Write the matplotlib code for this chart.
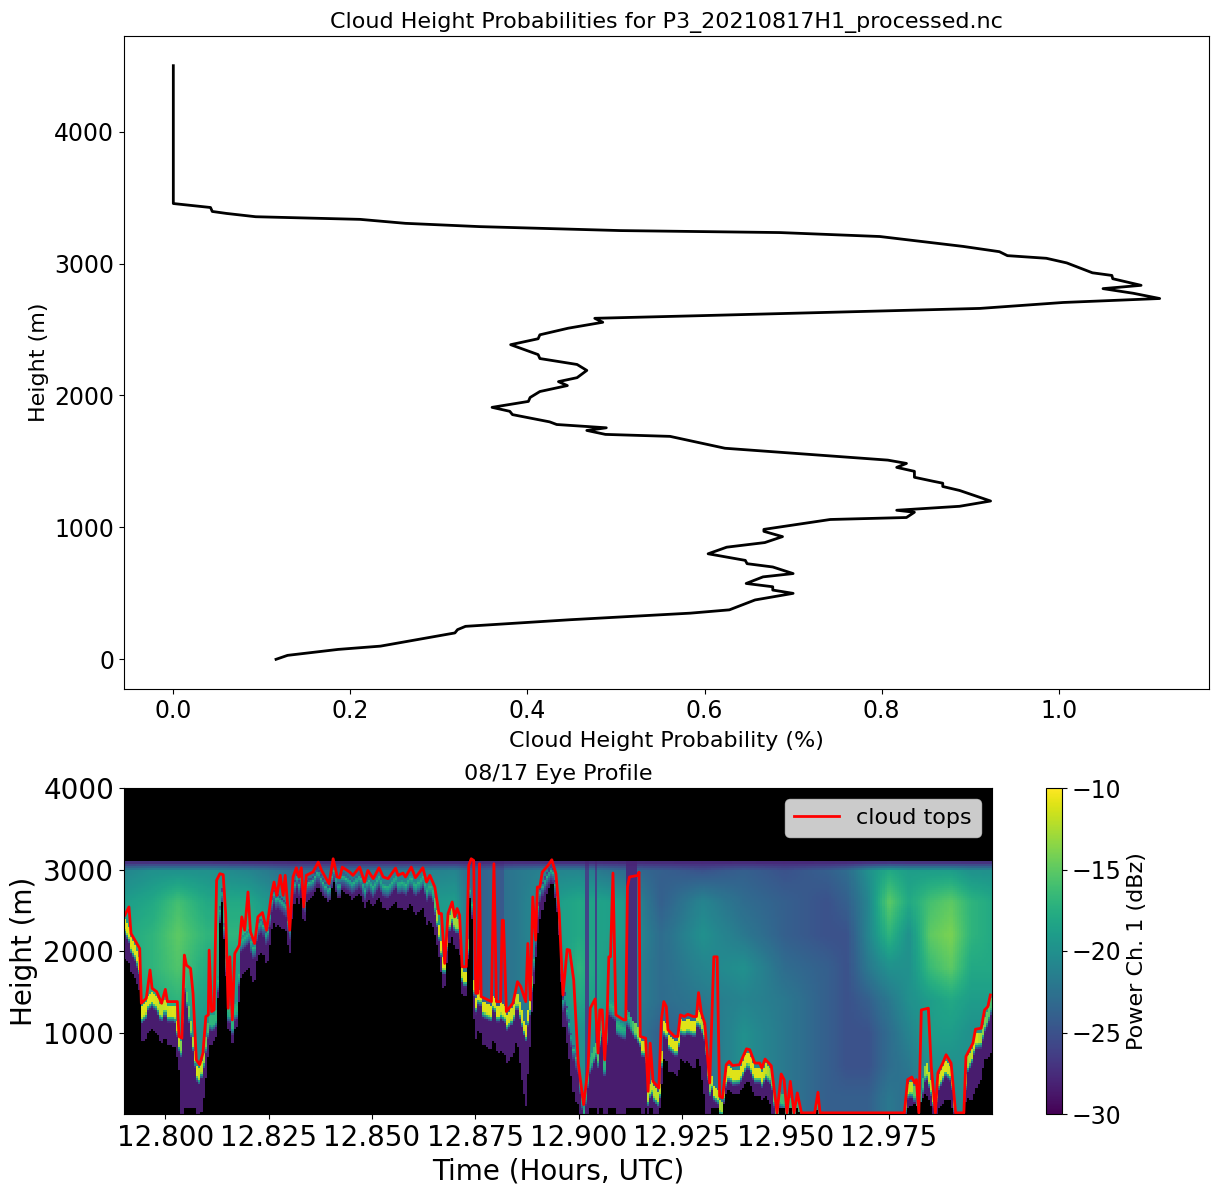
import numpy as np
import matplotlib
matplotlib.use('Agg')
import matplotlib.pyplot as plt

# top panel, cloud height probability profile
prob = [.116,.129,.186,.234,.318,.321,.330,.448,.584,.628,.657,.700,.677,.677,.647,.666,.700,.677,.648,.646,
        .604,.625,.668,.688,.667,.667,.742,.828,.837,.817,.888,.923,.888,.869,.869,.858,.837,.837,.817,.828,
        .807,.623,.561,.488,.467,.489,.433,.425,.383,.380,.360,.401,.403,.414,.445,.435,.456,.467,.456,.414,
        .412,.381,.412,.414,.446,.485,.476,.595,.911,1.005,1.114,1.084,1.050,1.093,1.061,1.060,1.038,1.009,.986,.942,
        .933,.892,.798,.685,.505,.346,.262,.211,.093,.060,.044,.042,0,0]
prob_h = [0,30,75,100,200,225,250,300,350,375,450,500,525,550,575,625,650,700,725,750,
          800,850,885,930,970,985,1060,1075,1115,1130,1160,1200,1280,1310,1335,1350,1380,1425,1455,1485,
          1510,1600,1690,1705,1735,1755,1780,1800,1855,1880,1910,1955,1985,2030,2075,2105,2135,2190,2235,2280,
          2310,2385,2430,2460,2510,2555,2585,2605,2660,2705,2735,2775,2810,2835,2885,2910,2930,3005,3040,3060,
          3090,3130,3205,3235,3250,3280,3305,3335,3355,3380,3395,3425,3455,4500]

# bottom panel, cloud tops line
top_t = [12.7902,12.7912,12.7917,12.7938,12.7942,12.7954,12.7963,12.7968,12.7979,12.7991,12.8,12.8005,12.8019,12.8029,12.8033,12.804,
         12.8046,12.8051,12.8061,12.8067,12.8075,12.8083,12.8091,12.8098,12.8104,12.8106,12.8112,12.8118,12.8124,12.8132,12.814,12.8146,
         12.8152,12.8156,12.8162,12.8168,12.8179,12.8185,12.8192,12.82,12.8206,12.8216,12.8224,12.8235,12.8245,12.8257,12.8263,12.827,
         12.8278,12.8285,12.829,12.8301,12.8309,12.8317,12.8323,12.8329,12.8335,12.8341,12.8357,12.837,12.8378,12.8396,12.8406,12.8416,
         12.8422,12.8428,12.8446,12.8454,12.847,12.8482,12.849,12.8503,12.8517,12.8527,12.8539,12.8557,12.8563,12.8575,12.8581,12.8595,
         12.8605,12.8623,12.8632,12.864,12.8652,12.8662,12.8668,12.8676,12.8684,12.8694,12.87,12.8706,12.8712,12.8718,12.8728,12.8734,
         12.874,12.8746,12.8751,12.8756,12.876,12.8764,12.8789,12.8795,12.8801,12.8811,12.8815,12.8818,12.8825,12.8841,12.8852,12.886,
         12.8872,12.8877,12.8883,12.8889,12.8896,12.89,12.8906,12.8912,12.8926,12.8935,12.8945,12.8953,12.8962,12.8972,12.8978,12.8988,
         12.8999,12.9012,12.9023,12.9028,12.904,12.9047,12.9051,12.9057,12.9063,12.9069,12.9073,12.9077,12.9083,12.909,12.9109,12.9114,
         12.9118,12.9123,12.9144,12.9146,12.9149,12.9162,12.9168,12.9173,12.918,12.9194,12.92,12.9206,12.9212,12.9216,12.9232,12.924,
         12.9246,12.9256,12.9264,12.9277,12.9285,12.929,12.9297,12.9305,12.9317,12.9327,12.9335,12.9341,12.9348,12.9357,12.9364,12.9372,
         12.9389,12.9406,12.9414,12.9426,12.9438,12.9443,12.9451,12.9466,12.948,12.949,12.9497,12.9504,12.9512,12.9521,12.9529,12.9539,
         12.9571,12.9579,12.9584,12.9788,12.9796,12.9806,12.9813,12.9817,12.9823,12.9829,12.9846,12.9853,12.9863,12.9869,12.9881,12.9889,
         12.9901,12.9912,12.9932,12.9937,12.9954,12.996,12.9974,12.9982,12.999,12.9996]
top_h = [2441,2543,2217,2034,1363,1424,1770,1546,1505,1363,1533,1383,1383,1383,956,935,
         1953,1830,1790,1485,670,610,752,1200,1220,2014,1261,1281,2869,2950,2938,2462,
         1302,1932,1159,1973,2075,2421,2258,2726,2238,2095,2421,2474,2258,2706,2848,2685,
         2930,2685,2930,2258,2910,3023,2910,3023,2543,2930,2970,3092,2990,2828,3133,2910,
         2901,3031,2970,2930,3031,2848,2990,2889,3023,2910,2889,3019,2930,2958,2910,3031,
         2901,3023,2848,2930,2787,2462,2462,1851,2462,2604,2421,2523,2441,1810,1810,3052,
         3133,3113,1485,1485,3072,1444,1383,3072,1383,1383,2380,2380,1261,1363,1627,1566,
         1383,2095,1403,2665,2136,2787,2787,2970,3052,3121,2950,2462,1464,2022,2014,1648,
         630,121,589,1302,1416,752,1281,1281,670,1241,1932,1932,2958,1220,1159,1159,
         2787,2910,2930,2970,956,935,284,874,406,325,1159,1383,1322,1037,956,956,
         1220,1200,1228,1200,1200,1493,1241,1118,386,1932,1932,223,203,610,650,600,
         610,805,793,630,630,569,679,597,20,496,427,20,406,20,264,20,
         20,272,20,20,427,459,386,427,20,1281,1302,589,20,508,630,732,
         630,20,20,711,874,1045,1057,1281,1322,1464]

# clear air return, read at these times (columns) and heights (rows)
air_t = [12.790,12.797,12.803,12.810,12.820,12.830,12.870,12.875,12.885,12.895,12.900,12.910,
         12.920,12.930,12.940,12.950,12.960,12.965,12.970,12.975,12.980,12.985,12.990,12.995,13.0]
air_h = [200,600,1000,1400,1800,2200,2600,3000]
air_power = np.array([
    [-20,-20,-19,-20,-21,-22,-22,-24,-23,-21,-20,-21,-24,-23,-21,-22,-24,-24,-24,-22,-23,-22,-21,-20,-20],
    [-20,-20,-19,-20,-21,-22,-22,-24,-23,-21,-20,-21,-24,-23,-20,-22,-24,-25,-25,-23,-22,-20,-20,-20,-20],
    [-20,-20,-19,-20,-20,-22,-22,-24,-23,-21,-20,-21,-24,-23,-20,-22,-24,-25,-25,-23,-21,-19,-19,-20,-20],
    [-19,-18,-17,-19,-20,-21,-22,-24,-22,-20,-18,-20,-23,-22,-21,-22,-24,-25,-24,-22,-20,-19,-18,-19,-19],
    [-18,-17,-15.5,-18,-19,-21,-20,-24,-22,-20,-17,-20,-23,-21,-20,-23,-24,-25,-22,-20,-20,-16.5,-15,-18,-18],
    [-18,-17,-15,-17,-17,-20,-19,-24,-22,-19,-18,-19,-23,-20,-22,-24,-25,-25,-21,-17,-20,-15,-14,-17,-18],
    [-19,-18,-16,-18,-18,-21,-19,-24,-22,-19,-18,-19,-24,-21,-23,-24,-25,-24,-21,-15,-18,-16,-15,-17,-18],
    [-21,-20,-20,-20,-21,-23,-21,-24,-22,-21,-21,-23,-24,-25,-24,-25,-24,-23,-20,-18,-19,-19,-19,-20,-20],
])

# dark vertical stripes through the clear air
dark_start = [12.8797,12.9015,12.904,12.9117]
dark_end = [12.882,12.9023,12.9043,12.9141]
dark_power = [-24.5,-26,-26,-27.5]

# strong return band under the cloud top: height, peak power, how far the signal goes down
band_t = [12.790,12.792,12.794,12.7945,12.797,12.799,12.802,12.8033,12.8045,12.8075,12.809,12.8105,12.8125,12.8135,12.8155,12.8175,
          12.818,12.822,12.826,12.830,12.832,12.840,12.850,12.860,12.8645,12.866,12.8675,12.869,12.8712,12.872,12.873,12.874,
          12.8748,12.879,12.8825,12.885,12.8872,12.8885,12.8895,12.8905,12.8935,12.8955,12.8965,12.899,12.9012,12.903,12.905,12.907,
          12.9095,12.912,12.9148,12.916,12.917,12.9185,12.92,12.9205,12.923,12.925,12.929,12.931,12.9325,12.935,12.936,12.939,
          12.9405,12.944,12.9455,12.947,12.9485,12.953,12.960,12.970,12.978,12.9795,12.981,12.982,12.984,12.9855,12.9865,12.9885,
          12.9905,12.9925,12.9935,12.994,12.996,12.998,13.0]
band_h = [2350,2150,1800,1330,1450,1330,1330,900,1700,620,600,1150,1200,2900,1250,1300,
          2100,2300,2700,2500,3000,3000,3000,3000,2800,2350,1750,2500,2300,1780,1750,3050,
          1480,1400,1240,1450,1000,1500,2000,2700,3050,2400,1500,700,500,650,900,1350,
          1250,1200,950,900,300,400,300,1100,950,1200,1200,1000,300,180,550,600,
          750,550,620,500,200,100,120,100,0,400,400,0,600,300,350,600,
          500,0,200,650,950,1100,1400]
band_peak = [-11,-11,-11,-11,-11,-12,-11,-12,-17,-11,-12,-17,-17,-27,-17,-18,
             -20,-22,-26,-26,-26,-25,-22,-21,-20,-11,-11,-13,-13,-11,-11,-27,
             -11,-11,-11,-12,-11,-11,-26,-26,-26,-28,-27,-24,-19,-17,-15,-19,
             -18,-20,-11,-12,-12,-12,-12,-11,-11,-11,-11,-15,-11,-13,-11,-11,
             -11,-11,-12,-15,-16,-18,-20,-23,-24,-12,-12,-24,-12,-12,-12,-11,
             -12,-24,-14,-13,-11,-14,-16]
band_depth = [500,400,400,450,450,450,500,400,1700,620,600,400,300,150,300,300,
              500,450,400,350,300,200,300,400,500,400,350,350,400,300,300,100,
              500,550,600,600,1000,500,300,400,200,250,400,600,500,650,900,1350,
              1250,1200,950,900,300,400,300,500,400,500,600,1000,300,180,300,300,
              350,350,400,500,200,100,120,100,0,300,300,0,400,300,350,500,
              400,0,200,500,700,500,700]

# build the power field from the arrays above
t_edges = np.arange(12.79, 13.0001, 0.0005)
h_edges = np.arange(0, 3101, 25)
tc = 0.5*(t_edges[1:]+t_edges[:-1])
hc = 0.5*(h_edges[1:]+h_edges[:-1])
air_cols = np.array([np.interp(tc, air_t, row) for row in air_power])
for a, b, p in zip(dark_start, dark_end, dark_power):
    air_cols[:, (tc >= a) & (tc <= b)] = p
Z = np.full((len(hc), len(tc)), np.nan)
for j in range(len(tc)):
    air = np.interp(hc, air_h, air_cols[:, j])
    # the echo fades to purple at the very top of the range
    air = np.where(hc > 2990, air+(hc-2990)/110*(-28-air), air)
    # band follows the red line where that dips under the read height
    bh = min(np.interp(tc[j], band_t, band_h)+120, np.interp(tc[j], top_t, top_h))-50
    pk = np.interp(tc[j], band_t, band_peak)
    dp = np.interp(tc[j], band_t, band_depth)
    d = bh-hc
    col = air.copy()
    inside = (d >= 0) & (d <= dp)
    col[inside] = np.interp(d[inside], [0, 25, 60, 120, 200], [pk, pk, max(pk, -17), max(pk, -24), -28.5])
    col[d > dp] = np.nan
    Z[:, j] = col

fig = plt.figure(figsize=(12.18, 11.95), dpi=100)

ax1 = fig.add_axes([124/1218, 1-689/1195, 1085/1218, 653/1195])
ax1.plot(prob, prob_h, 'k', lw=2)
ax1.set_xlabel('Cloud Height Probability (%)', fontsize=16, labelpad=6)
ax1.set_ylabel('Height (m)', fontsize=16)
ax1.set_title('Cloud Height Probabilities for P3_20210817H1_processed.nc', fontsize=16, pad=6)
ax1.tick_params(labelsize=17)
ax1.set_yticks([0, 1000, 2000, 3000, 4000])

ax2 = fig.add_axes([124/1218, 1-1114/1195, 868/1218, 326/1195])
ax2.set_facecolor('k')
cmap = plt.get_cmap('viridis').copy()
cmap.set_bad('k')
pc = ax2.pcolormesh(t_edges, h_edges, np.ma.masked_invalid(Z), cmap=cmap, vmin=-30, vmax=-10)
ax2.plot(top_t, top_h, 'r', lw=2, label='cloud tops')
ax2.set_xlim(12.79, 13.0)
ax2.set_ylim(6, 4000)
ax2.set_xticks([12.8, 12.825, 12.85, 12.875, 12.9, 12.925, 12.95, 12.975])
ax2.set_xticklabels(['12.800', '12.825', '12.850', '12.875', '12.900', '12.925', '12.950', '12.975'])
ax2.set_yticks([1000, 2000, 3000, 4000])
ax2.tick_params(labelsize=20)
ax2.set_xlabel('Time (Hours, UTC)', fontsize=20)
ax2.set_ylabel('Height (m)', fontsize=20)
ax2.set_title('08/17 Eye Profile', fontsize=16, pad=6)
ax2.legend(loc='upper right', fontsize=16)

cax = fig.add_axes([1046/1218, 1-1114/1195, 16/1218, 326/1195])
cb = fig.colorbar(pc, cax=cax)
cb.set_label('Power Ch. 1 (dBz)', fontsize=16)
cb.ax.tick_params(labelsize=17)

plt.savefig('out.png', dpi=100)
